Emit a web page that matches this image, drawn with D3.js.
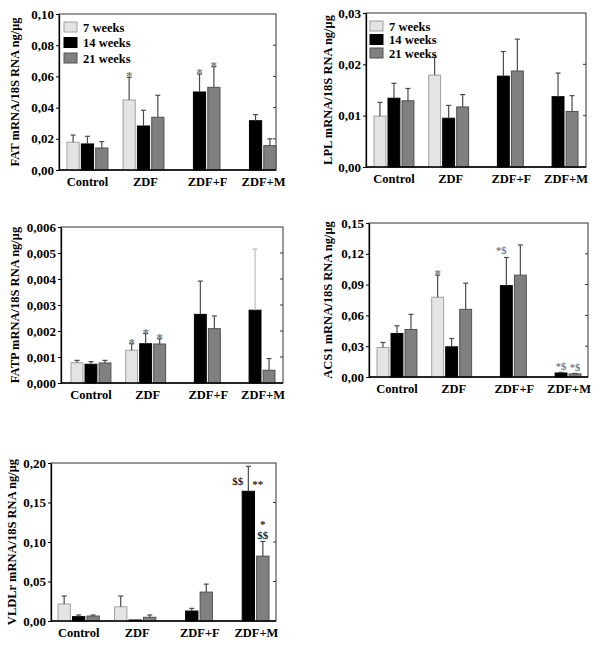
<!DOCTYPE html>
<html><head><meta charset="utf-8">
<script src="https://cdn.jsdelivr.net/npm/d3@7"></script>
<style>body{margin:0;background:#fff}svg{display:block}text{font-family:"Liberation Serif","Times New Roman",serif;font-weight:bold}</style>
</head><body>
<svg id="c" width="600" height="649"></svg>
<script>
// ---------- data ----------
const categories = ["Control", "ZDF", "ZDF+F", "ZDF+M"];
const seriesNames = ["7 weeks", "14 weeks", "21 weeks"];

const fatMean  = [[0.0178, 0.0167, 0.0141], [0.0449, 0.0282, 0.0338], [null, 0.0500, 0.0530], [null, 0.0316, 0.0156]];
const fatSD    = [[0.0046, 0.0049, 0.0041], [0.0145, 0.0101, 0.0141], [null, 0.0115, 0.0132], [null, 0.0039, 0.0044]];
const lplMean  = [[0.0099, 0.0134, 0.0129], [0.0179, 0.0095, 0.0117], [null, 0.0177, 0.0187], [null, 0.0137, 0.0108]];
const lplSD    = [[0.0027, 0.0029, 0.0024], [0.0035, 0.0025, 0.0024], [null, 0.0048, 0.0062], [null, 0.0046, 0.0031]];
const fatpMean = [[0.00078, 0.00072, 0.00077], [0.00126, 0.00151, 0.00150], [null, 0.00264, 0.00209], [null, 0.00280, 0.00049]];
const fatpSD   = [[0.00009, 0.00010, 0.00010], [0.00025, 0.00039, 0.00020], [null, 0.00128, 0.00049], [null, 0.00235, 0.00045]];
const acsMean  = [[0.0287, 0.0424, 0.0463], [0.0777, 0.0294, 0.0659], [null, 0.0890, 0.0992], [null, 0.0039, 0.0030]];
const acsSD    = [[0.0049, 0.0075, 0.0147], [0.0215, 0.0081, 0.0255], [null, 0.0274, 0.0294], [null, 0.0006, 0.0005]];
const vldlMean = [[0.0215, 0.0055, 0.0063], [0.0180, 0.0013, 0.0047], [null, 0.0126, 0.0366], [null, 0.1642, 0.0821]];
const vldlSD   = [[0.0101, 0.0021, 0.0013], [0.0136, 0.0000, 0.0029], [null, 0.0034, 0.0101], [null, 0.0316, 0.0186]];

const fatTicks  = [0, 0.02, 0.04, 0.06, 0.08, 0.10];
const lplTicks  = [0, 0.01, 0.02, 0.03];
const fatpTicks = [0, 0.001, 0.002, 0.003, 0.004, 0.005, 0.006];
const acsTicks  = [0, 0.03, 0.06, 0.09, 0.12, 0.15];
const vldlTicks = [0, 0.05, 0.10, 0.15, 0.20];

// annotations: [group, series, text]
const fatNotes  = [[1, 0, "*"], [2, 1, "*"], [2, 2, "*"]];
const fatpNotes = [[1, 0, "*"], [1, 1, "*"], [1, 2, "*"]];
const acsNotes  = [[1, 0, "*"], [2, 1, "*$"], [3, 1, "*$"], [3, 2, "*$"]];
const vldlNotes = [[3, 1, "$$"], [3, 1, "**"], [3, 2, "*"], [3, 2, "$$"]];

// ---------- layout / style ----------
const fills   = ["#e4e4e4", "#000000", "#808080"];
const strokes = ["#a0a0a0", "#000000", "#505050"];
const labelShift = [0, 2, 8, 8];

const panels = [
  {title: "FAT mRNA/18S RNA ng/\u03bcg", mean: fatMean, sd: fatSD, ticks: fatTicks, dec: 2, notes: fatNotes,
   l: 59, r: 276, t: 14, b: 170, bars: [67, 276], tx: 15, legend: {x: 64, y: 22, dy: 15.5}, noteStyle: "gray"},
  {title: "LPL mRNA/18S RNA ng/\u03bcg", mean: lplMean, sd: lplSD, ticks: lplTicks, dec: 2, notes: [],
   l: 366, r: 586, t: 13, b: 167, bars: [374, 578], tx: 328, legend: {x: 370, y: 21, dy: 13.5}},
  {title: "FATP mRNA/18S RNA ng/\u03bcg", mean: fatpMean, sd: fatpSD, ticks: fatpTicks, dec: 3, notes: fatpNotes,
   l: 61, r: 283, t: 227, b: 383, bars: [71, 275], tx: 15, noteStyle: "gray"},
  {title: "ACS1 mRNA/18S RNA ng/\u03bcg", mean: acsMean, sd: acsSD, ticks: acsTicks, dec: 2, notes: acsNotes,
   l: 369, r: 588, t: 223, b: 377, bars: [377, 581], tx: 328, noteStyle: "gray"},
  {title: "VLDLr mRNA/18S RNA ng/\u03bcg", mean: vldlMean, sd: vldlSD, ticks: vldlTicks, dec: 2, notes: vldlNotes,
   l: 51, r: 276, t: 463, b: 621, bars: [58, 269], tx: 12, noteStyle: "black"}
];

const svg = d3.select("#c");

panels.forEach((p, pi) => {
  const g = svg.append("g");
  const y = d3.scaleLinear().domain([0, p.ticks[p.ticks.length - 1]]).range([p.b, p.t]);
  const x0 = d3.scaleBand().domain(categories).range(p.bars).paddingInner(0.27).paddingOuter(0);
  const x1 = d3.scaleBand().domain(seriesNames).range([0, x0.bandwidth()]).paddingInner(0.15);
  const fmt = v => d3.format("." + p.dec + "f")(v).replace(".", ",");

  // frame
  g.append("rect").attr("x", p.l).attr("y", p.t).attr("width", p.r - p.l).attr("height", p.b - p.t)
    .attr("fill", "none").attr("stroke", "#333").attr("stroke-width", 1);
  // right inward ticks
  g.selectAll(".rt").data(p.ticks.slice(1, -1)).join("line")
    .attr("x1", p.r).attr("x2", p.r - 3).attr("y1", d => y(d)).attr("y2", d => y(d)).attr("stroke", "#333");

  // bars
  const items = [];
  categories.forEach((c, ci) => seriesNames.forEach((s, si) => {
    const m = p.mean[ci][si];
    if (m !== null) items.push({c, s, ci, si, m, sd: p.sd[ci][si]});
  }));
  g.selectAll(".bar").data(items).join("rect")
    .attr("x", d => x0(d.c) + x1(d.s)).attr("width", x1.bandwidth())
    .attr("y", d => y(d.m)).attr("height", d => p.b - y(d.m))
    .attr("fill", d => fills[d.si]).attr("stroke", d => strokes[d.si]).attr("stroke-width", 1);

  // error bars
  const eb = g.selectAll(".eb").data(items.filter(d => d.sd > 0)).join("g");
  const cx = d => x0(d.c) + x1(d.s) + x1.bandwidth() / 2;
  const ecol = d => (pi === 2 && d.ci === 3 && d.si === 1) ? "#bbbbbb" : "#4a4a4a";
  eb.append("line").attr("x1", cx).attr("x2", cx).attr("y1", d => y(d.m)).attr("y2", d => y(d.m + d.sd))
    .attr("stroke", ecol).attr("stroke-width", 1.2);
  eb.append("line").attr("x1", d => cx(d) - 2.5).attr("x2", d => cx(d) + 2.5)
    .attr("y1", d => y(d.m + d.sd)).attr("y2", d => y(d.m + d.sd)).attr("stroke", ecol).attr("stroke-width", 1.2);

  // y axis
  const ax = g.append("g").attr("transform", `translate(${p.l},0)`)
    .call(d3.axisLeft(y).tickValues(p.ticks).tickFormat(fmt).tickSize(3).tickSizeOuter(0).tickPadding(2));
  ax.select(".domain").attr("stroke", "#000").attr("stroke-width", 1.3);
  ax.selectAll(".tick line").attr("stroke", "#000");
  ax.selectAll(".tick text").attr("font-family", "Liberation Serif").attr("font-weight", "bold")
    .attr("font-size", 13).attr("fill", "#000");
  // x axis line
  g.append("line").attr("x1", p.l).attr("x2", p.r).attr("y1", p.b).attr("y2", p.b)
    .attr("stroke", "#000").attr("stroke-width", 1.3);

  // x labels
  g.selectAll(".xl").data(categories).join("text")
    .attr("x", (d, i) => x0(d) + x0.bandwidth() / 2 + labelShift[i]).attr("y", p.b + 16)
    .attr("text-anchor", "middle").attr("font-size", 12.5).text(d => d);

  // y title
  g.append("text").attr("transform", `translate(${p.tx},${(p.t + p.b) / 2}) rotate(-90)`)
    .attr("text-anchor", "middle").attr("dominant-baseline", "central").attr("font-size", 12.5).text(p.title);

  // legend
  if (p.legend) {
    const lg = g.selectAll(".lg").data(seriesNames).join("g")
      .attr("transform", (d, i) => `translate(${p.legend.x},${p.legend.y + i * p.legend.dy})`);
    lg.append("rect").attr("width", 13).attr("height", 10)
      .attr("fill", (d, i) => fills[i]).attr("stroke", (d, i) => strokes[i]);
    lg.append("text").attr("x", 19).attr("y", 9.5).attr("font-size", 12.5).text(d => d);
  }

  // annotations
  p.notes.forEach(([ci, si, txt], k) => {
    const d = items.find(e => e.ci === ci && e.si === si);
    const xc = x0(d.c) + x1(d.s) + x1.bandwidth() / 2;
    const top = y(d.m + d.sd);
    let tx = xc, ty = top + 3, fs = 13, col = "#7a7a7a", anchor = "middle";
    if (txt === "*$") { fs = 10.5; ty = top - 3; if (ci === 2) tx = xc - 5; else ty = top - 2; }
    if (p.noteStyle === "black") {
      col = "#222"; fs = 11;
      if (txt === "$$" && si === 1) { tx = xc - 5; anchor = "end"; ty = top + 19; }
      else if (txt === "**") { tx = xc + 4; anchor = "start"; ty = top + 22; }
      else if (txt === "*") { ty = top - 13; }
      else if (txt === "$$") { ty = top - 2; }
    }
    g.append("text").attr("x", tx).attr("y", ty).attr("text-anchor", anchor)
      .attr("font-size", fs).attr("font-weight", txt.includes("$") ? "normal" : "bold")
      .attr("fill", col).text(txt);
  });
});
</script>
</body></html>
